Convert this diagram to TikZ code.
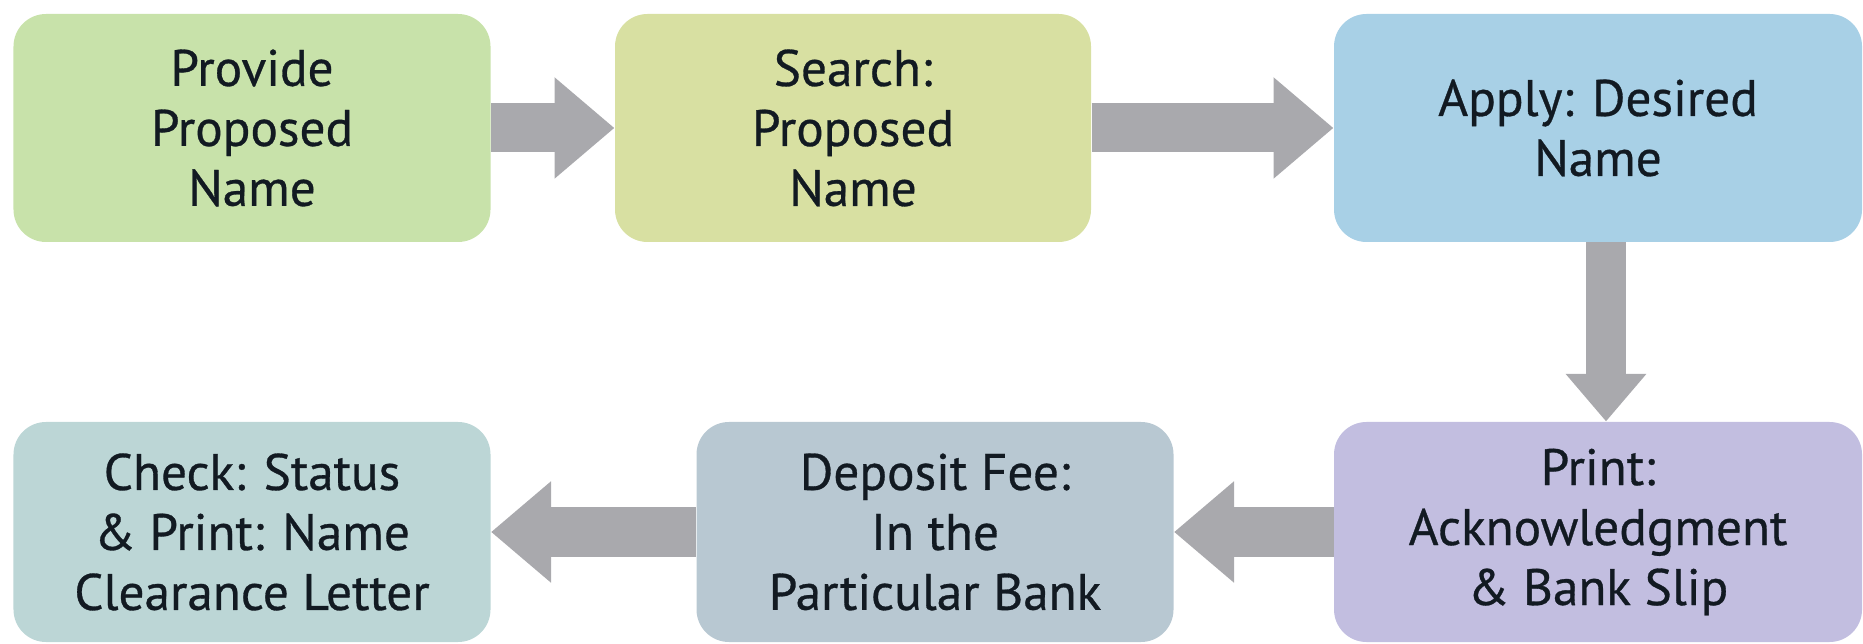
\documentclass[tikz,border=0pt]{standalone}
\usepackage{fontspec}
\setmainfont{PT Sans}
\newfontfamily\boxfont[FakeBold=0.6]{PT Sans}
\usetikzlibrary{arrows.meta}
\definecolor{cA}{HTML}{C8E2AA}
\definecolor{cB}{HTML}{D8E0A2}
\definecolor{cC}{HTML}{A8D0E6}
\definecolor{cD}{HTML}{C2BEE0}
\definecolor{cE}{HTML}{B8C8D2}
\definecolor{cF}{HTML}{BCD6D6}
\definecolor{arr}{HTML}{A9A9AD}
\definecolor{txt}{HTML}{121A22}
\tikzset{
  stepbox/.style={rectangle, rounded corners=13pt, inner sep=0pt, align=center,
    text=txt, font=\boxfont\fontsize{20.5}{24}\selectfont},
  harrow/.style={draw=arr, line width=19.6pt, -{Triangle[length=24pt,width=39pt]}, arr},
  varrow/.style={draw=arr, line width=16pt, -{Triangle[length=19pt,width=31pt]}, arr}
}
\begin{document}
\begin{tikzpicture}[x=0.4pt,y=-0.4pt]
\useasboundingbox (0,0) rectangle (1863,644);
\node[stepbox, fill=cA, minimum width=190.8pt, minimum height=91.2pt] (b1) at (252,128) {Provide\\Proposed\\Name};
\node[stepbox, fill=cB, minimum width=190.4pt, minimum height=91.2pt] (b2) at (853,128) {Search:\\Proposed\\Name};
\node[stepbox, fill=cC, minimum width=211.2pt, minimum height=91.2pt] (b3) at (1598,128) {Apply: Desired\\Name};
\node[stepbox, fill=cD, minimum width=211.2pt, minimum height=88pt] (b4) at (1598,532) {Print:\\Acknowledgment\\\& Bank Slip};
\node[stepbox, fill=cE, minimum width=190.8pt, minimum height=88pt] (b5) at (935,532) {Deposit Fee:\\In the\\Particular Bank};
\node[stepbox, fill=cF, minimum width=190.8pt, minimum height=88pt] (b6) at (252,532) {Check: Status\\\& Print: Name\\Clearance Letter};
\draw[harrow] (b1.east) -- (b2.west);
\draw[harrow] (b2.east) -- (b3.west);
\draw[varrow] ([xshift=3.2pt]b3.south) -- ([xshift=3.2pt]b4.north);
\draw[harrow] (b4.west) -- (b5.east);
\draw[harrow] (b5.west) -- (b6.east);
\end{tikzpicture}
\end{document}
